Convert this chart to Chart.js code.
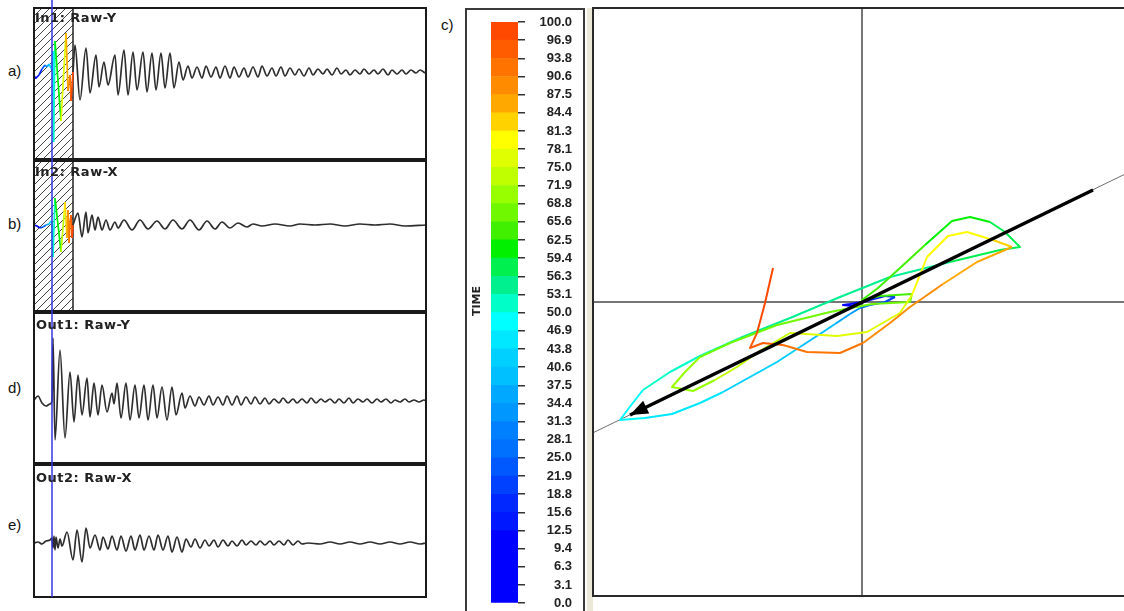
<!DOCTYPE html>
<html>
<head>
<meta charset="utf-8">
<script src="https://cdn.jsdelivr.net/npm/chart.js@4.4.1/dist/chart.umd.min.js"></script>
<style>
  html, body { margin: 0; padding: 0; background: #fff; width: 1124px; height: 611px; overflow: hidden; position: relative; }
  canvas { position: absolute; display: block; }
  .lbl { position: absolute; font: 15px "Liberation Sans", Arial, sans-serif; color: #111; line-height: 18px; }
  .ttl { position: absolute; font: bold 13px "DejaVu Sans", Verdana, sans-serif; color: #222; line-height: 15px;
         white-space: nowrap; letter-spacing: 0.5px; }
  .axisname { position: absolute; font: bold 11px "DejaVu Sans", Verdana, sans-serif; color: #222; line-height: 14px;
              width: 60px; text-align: center; transform: rotate(-90deg); }
  .strip { position: absolute; background: #ece9d8; }
</style>
</head>
<body>
<div class="lbl" style="left:8px;top:62px">a)</div>
<div class="lbl" style="left:8px;top:215px">b)</div>
<div class="lbl" style="left:8px;top:379px">d)</div>
<div class="lbl" style="left:8px;top:516px">e)</div>
<div class="lbl" style="left:441px;top:16px">c)</div>

<canvas id="cvA" width="440" height="160" style="left:0;top:0"></canvas>
<canvas id="cvB" width="440" height="152" style="left:0;top:160px"></canvas>
<canvas id="cvD" width="440" height="152" style="left:0;top:312px"></canvas>
<canvas id="cvE" width="440" height="147" style="left:0;top:464px"></canvas>

<div class="ttl" style="left:35px;top:10px">In1: Raw-Y</div>
<div class="ttl" style="left:35px;top:164px">In2: Raw-X</div>
<div class="ttl" style="left:36px;top:317px">Out1: Raw-Y</div>
<div class="ttl" style="left:36px;top:470px">Out2: Raw-X</div>

<div class="strip" style="left:587px;top:8px;width:6px;height:603px"></div>
<canvas id="cvBar" width="120" height="607" style="left:465px;top:8px"></canvas>
<div class="axisname" style="left:447px;top:294px">TIME</div>

<canvas id="cvOrbit" width="540" height="591" style="left:591px;top:7px"></canvas>

<script>
// ---------- time colour scale (TIME, % of the analysis window) ----------
const timeLevels = [0, 3.125, 6.25, 9.375, 12.5, 15.625, 18.75, 21.875, 25, 28.125, 31.25, 34.375,
  37.5, 40.625, 43.75, 46.875, 50, 53.125, 56.25, 59.375, 62.5, 65.625, 68.75, 71.875, 75,
  78.125, 81.25, 84.375, 87.5, 90.625, 93.75, 96.875, 100];
const timeTickLabels = ['0.0', '3.1', '6.3', '9.4', '12.5', '15.6', '18.8', '21.9', '25.0', '28.1', '31.3', '34.4',
  '37.5', '40.6', '43.8', '46.9', '50.0', '53.1', '56.3', '59.4', '62.5', '65.6', '68.8', '71.9', '75.0',
  '78.1', '81.3', '84.4', '87.5', '90.6', '93.8', '96.9', '100.0'];
// one colour per band, from 0.0 upwards
const timeColors = ['#0000ff', '#0000ff', '#0000ff', '#0000ff', '#0018ff', '#0028ff', '#0040ff', '#0058ff',
  '#0070ff', '#0080ff', '#0098ff', '#00a8ff', '#00c0ff', '#00d0ff', '#00e8ff', '#00ffff',
  '#00ffc8', '#00f090', '#00f050', '#00f000', '#40f000', '#70f800', '#98ff00', '#c0ff00',
  '#e0ff00', '#ffff00', '#ffd200', '#ffa800', '#ff8c00', '#ff7400', '#ff5c00', '#ff4800'];

// ---------- waveforms (time in samples, amplitude in counts) ----------
const windowLength = 39;   // hatched analysis window, samples
const cursorTime = 18;     // time cursor, samples

// In1: Raw-Y, inside the analysis window
const in1WinT = [0, 2, 5, 8, 11, 13, 15, 17, 18, 19, 19.5, 21, 27, 32, 34, 36, 37, 39];
const in1WinA = [-4, -6, -3, 3, 7, 5, 8, 4, 2, 21, -70, 31, -49, 39, -19, -3, -29, 0];
// In1: Raw-Y, after the window
const in1T = [39, 41, 46, 52, 56, 62, 65, 70, 74, 81, 84, 90, 94, 99, 103, 109, 113, 118, 122, 127,
  131, 136, 140, 145, 149, 154, 158, 163, 168, 172, 177, 182, 186, 191, 196, 200, 205, 210, 214, 219,
  224, 228, 233, 238, 242, 247, 251, 256, 261, 265, 270, 275, 279, 284, 289, 293, 298, 303, 307, 312,
  316, 321, 326, 330, 335, 340, 344, 349, 354, 358, 363, 368, 372, 377, 382, 386, 391];
const in1A = [0, 27, -28, 24, -21, 17, -15, 10, -13, 17, -23, 22, -23, 20, -18, 20, -20, 19, -18, 19,
  -16, 19, -16, 10, -8, 6, -6, 5, -6, 6, -5, 5, -6, 6, -6, 5, -5, 4, -5, 5,
  -5, 6, -4, 4, -4, 5, -4, 4, -3, 3, -4, 4, -3, 3, -2, 3, -3, 4, -2, 2,
  -3, 2, -2, 3, -2, 2, -2, 3, -3, 2, -2, 2, -2, 2, -1, 2, -1];

// In2: Raw-X
const in2WinT = [0, 3, 6, 9, 12, 15, 17, 18, 19, 21, 27, 30, 31, 33, 34, 35, 36, 37, 38, 39];
const in2WinA = [0, -1, -3, -2, 0, 1, 4, 2, -32, 27, -27, 10, 23, -13, 15, -18, 3, 10, -13, 0];
const in2T = [39, 44, 48, 52, 54, 58, 61, 64, 68, 72, 76, 81, 84, 90, 98, 106, 114, 123, 131, 139,
  148, 156, 165, 173, 181, 188, 196, 204, 213, 219, 228, 241, 256, 266, 281, 296, 311, 326, 341, 356,
  371, 392];
const in2A = [0, 12, -12, 13, -8, 10, -5, 8, -5, 5, -5, 3, -3, 5, -5, 5, -4, 4, -4, 5,
  -4, 5, -5, 4, -4, 3, -3, 2, -2, 1, -1, 1, -1, 1, 0, 1, -1, 1, 0, 1,
  -1, 0];

// Out1: Raw-Y
const out1T = [0, 4, 8, 12, 16, 18, 19, 21, 26, 31, 36, 40, 44, 48, 53, 56, 60, 64, 68, 73,
  78, 80, 83, 87, 92, 96, 101, 105, 110, 114, 119, 123, 128, 133, 138, 142, 148, 151, 156, 161,
  165, 170, 175, 179, 184, 189, 193, 198, 203, 207, 212, 217, 221, 226, 231, 235, 240, 245, 249, 254,
  259, 263, 268, 273, 277, 282, 287, 291, 296, 301, 305, 310, 315, 319, 324, 329, 333, 338, 343, 347,
  352, 357, 361, 366, 371, 375, 380, 385, 390, 392];
const out1A = [1, 5, -2, -5, -3, 0, 63, -39, 51, -37, 29, -21, 26, -14, 23, -16, 18, -14, 16, -11,
  8, -3, 18, -17, 18, -19, 16, -17, 16, -19, 16, -17, 14, -19, 14, -14, 8, -7, 5, -5,
  4, -4, 5, -4, 4, -4, 5, -4, 5, -4, 4, -3, 4, -3, 3, -3, 2, -2, 3, -2,
  2, -2, 2, -2, 3, -2, 2, -1, 2, -2, 2, -2, 3, -2, 2, -1, 2, -2, 2, -1,
  2, -2, 1, -1, 2, -1, 1, -1, 1, 0];

// Out2: Raw-X
const out2T = [0, 4, 8, 12, 16, 18, 19, 20, 21, 22, 24, 26, 28, 33, 39, 43, 48, 52, 56, 61,
  66, 69, 74, 78, 83, 87, 92, 97, 101, 106, 110, 115, 120, 124, 129, 134, 138, 143, 148, 152,
  157, 161, 166, 171, 175, 180, 184, 189, 194, 198, 203, 208, 212, 217, 222, 226, 231, 236, 240, 245,
  250, 254, 259, 264, 268, 274, 286, 296, 306, 316, 326, 336, 346, 356, 366, 376, 386, 392];
const out2A = [0, 1, -1, 2, 3, 5, -5, 7, -7, 6, -5, 4, -3, 11, -17, 13, -19, 15, -5, 8,
  -7, 6, -6, 7, -7, 7, -8, 7, -7, 8, -7, 7, -7, 8, -7, 7, -9, 6, -9, 4,
  -4, 4, -5, 3, -3, 3, -4, 3, -3, 2, -3, 3, -2, 2, -2, 2, -2, 2, -2, 2,
  -2, 3, -2, 2, -1, 0, -1, 1, -1, 1, -1, 1, -1, 1, -1, 1, -1, 0];

// ---------- particle motion (X / Y), with its time in % of the window ----------
const orbitX = [0, -0.12, -0.19, -0.10, 0.08, 0.23, 0.33, 0.23, 0.08, -0.02,
  -0.12, -0.27, -0.39, -0.62, -0.85, -1.12, -1.39, -1.62, -1.90, -2.17,
  -2.42, -2.30, -2.19, -1.92, -1.62, -1.22, -0.72, -0.22, 0.28, 0.88,
  1.38, 1.58, 1.43, 1.28, 1.08, 0.90, 0.63, 0.38, 0.16, 0.00,
  0.18, 0.50, 0.48, 0.10, -0.32, -0.85, -1.32, -1.62, -1.77, -1.90,
  -1.69, -1.47, -1.25, -1.02, -0.72, -0.25, 0.05, 0.38, 0.50, 0.65,
  0.86, 1.05, 1.31, 1.50, 1.15, 0.81, 0.48, 0.28, 0.01, -0.22,
  -0.55, -0.79, -0.99, -1.12, -1.05, -0.97, -0.89];
const orbitY = [0, -0.02, -0.03, -0.04, 0.02, 0.06, 0.05, 0.00, -0.03, -0.06,
  -0.12, -0.22, -0.30, -0.45, -0.60, -0.75, -0.90, -1.01, -1.12, -1.16,
  -1.18, -1.02, -0.88, -0.70, -0.54, -0.36, -0.16, 0.05, 0.25, 0.40,
  0.52, 0.55, 0.70, 0.80, 0.85, 0.81, 0.57, 0.34, 0.14, 0.02,
  0.06, 0.08, 0.00, -0.02, -0.10, -0.23, -0.41, -0.55, -0.70, -0.85,
  -0.89, -0.78, -0.65, -0.49, -0.31, -0.34, -0.30, -0.11, 0.07, 0.45,
  0.66, 0.70, 0.62, 0.55, 0.40, 0.18, -0.05, -0.21, -0.41, -0.51,
  -0.50, -0.43, -0.41, -0.46, -0.31, -0.01, 0.34];
const orbitTime = [0, 3, 6, 9, 12, 15, 18, 21, 25, 30,
  34, 37, 39, 41, 42, 43, 44, 45, 46, 47,
  48, 49, 50, 51, 52, 53, 53.5, 54, 55, 56,
  56.5, 57, 58.5, 59.5, 60.5, 61.5, 62.5, 63.5, 64, 64.5,
  65, 65.5, 66, 66.5, 67, 67.5, 68, 68.5, 69, 69.5,
  70.5, 71.5, 72.5, 73.5, 74.5, 75.5, 76.5, 77.5, 78.5, 79,
  79.5, 80, 81.5, 84, 86, 87.5, 88.5, 89.5, 90.5, 91.5,
  92.5, 93.5, 94.5, 96, 97, 98.5, 100];
// principal direction and polarisation arrow
const majorAxisX = [-2.9, 2.9];
const majorAxisY = [-1.41, 1.41];
const arrowX = [2.31, -2.32];
const arrowY = [1.12, -1.13];

// ---------- helpers ----------
const pts = (xs, ys) => xs.map((x, i) => ({ x, y: ys[i] }));
const colorAt = pct => {
  const n = timeColors.length;
  return timeColors[Math.max(0, Math.min(n - 1, Math.floor(pct / (100 / n))))];
};
Chart.defaults.animation = false;
Chart.defaults.devicePixelRatio = 1;

function wavePanel(id, o) {
  const datasets = [{
    data: pts(o.t, o.a), borderColor: '#2e2e2e', borderWidth: 1.7, pointRadius: 0,
    cubicInterpolationMode: 'monotone'
  }];
  if (o.winT) {
    datasets.push({
      data: pts(o.winT, o.winA), borderWidth: 1.7, pointRadius: 0, tension: 0, borderColor: '#00f',
      segment: { borderColor: c => colorAt((c.p0.parsed.x + c.p1.parsed.x) / 2 / windowLength * 100) }
    });
  }
  const decor = {
    id: 'panelDecor',
    beforeDatasetsDraw(chart) {
      if (!o.winT) return;
      const { ctx, chartArea: a, scales: { x } } = chart;
      const x1 = x.getPixelForValue(windowLength);
      const h = a.bottom - a.top;
      ctx.save();
      ctx.beginPath(); ctx.rect(a.left, a.top, x1 - a.left, h); ctx.clip();
      ctx.strokeStyle = '#444'; ctx.lineWidth = 1;
      ctx.beginPath();
      for (let k = a.left - h; k < x1; k += 8) { ctx.moveTo(k, a.bottom); ctx.lineTo(k + h, a.top); }
      ctx.stroke();
      ctx.restore();
      ctx.save();
      ctx.strokeStyle = '#222'; ctx.lineWidth = 1.5;
      ctx.beginPath(); ctx.moveTo(x1, a.top); ctx.lineTo(x1, a.bottom); ctx.stroke();
      ctx.restore();
    },
    afterDraw(chart) {
      const { ctx, chartArea: a, scales: { x } } = chart;
      ctx.save();
      ctx.strokeStyle = '#1a1a1a'; ctx.lineWidth = 2;
      ctx.strokeRect(a.left, a.top, a.right - a.left, a.bottom - a.top);
      const cx = x.getPixelForValue(cursorTime);
      ctx.strokeStyle = '#3434e6'; ctx.lineWidth = 1.5;
      ctx.beginPath(); ctx.moveTo(cx, 0); ctx.lineTo(cx, o.cursorToBottom ? a.bottom : chart.height); ctx.stroke();
      ctx.restore();
    }
  };
  return new Chart(document.getElementById(id), {
    type: 'line',
    data: { datasets },
    options: {
      responsive: false, parsing: true,
      layout: { padding: { left: 34, right: 14, top: o.padTop, bottom: o.padBottom } },
      scales: {
        x: { type: 'linear', min: 0, max: 392, display: false },
        y: { min: o.yMin, max: o.yMax, display: false }
      },
      plugins: { legend: { display: false }, tooltip: { enabled: false } }
    },
    plugins: [decor]
  });
}

wavePanel('cvA', { t: in1T, a: in1A, winT: in1WinT, winA: in1WinA, yMin: -87, yMax: 64, padTop: 8, padBottom: 1 });
wavePanel('cvB', { t: in2T, a: in2A, winT: in2WinT, winA: in2WinA, yMin: -86, yMax: 64, padTop: 1, padBottom: 1 });
wavePanel('cvD', { t: out1T, a: out1A, yMin: -62, yMax: 88, padTop: 1, padBottom: 1 });
wavePanel('cvE', { t: out2T, a: out2A, yMin: -54, yMax: 78, padTop: 1, padBottom: 14, cursorToBottom: true });

// ---------- colour bar ----------
new Chart(document.getElementById('cvBar'), {
  type: 'bar',
  data: {
    labels: ['TIME'],
    datasets: timeColors.map((c, i) => ({
      data: [[timeLevels[i], timeLevels[i + 1]]], backgroundColor: c, borderWidth: 0,
      barPercentage: 1, categoryPercentage: 1, grouped: false
    }))
  },
  options: {
    responsive: false,
    layout: { padding: { left: 26, right: 13, top: 14, bottom: 5 } },
    scales: {
      x: { display: false },
      y: {
        position: 'right', min: 0, max: 100,
        afterBuildTicks: s => { s.ticks = timeLevels.map(v => ({ value: v })); },
        afterFit: s => { s.width = 54; },
        ticks: {
          autoSkip: false, crossAlign: 'far', padding: 4, color: '#222',
          font: { family: '"Liberation Sans", Arial, sans-serif', size: 13, weight: 'bold' },
          callback: (v, i) => timeTickLabels[i]
        },
        grid: { drawOnChartArea: false, drawTicks: true, tickLength: 7, color: '#333', lineWidth: 1.5 },
        border: { display: false }
      }
    },
    plugins: { legend: { display: false }, tooltip: { enabled: false } }
  },
  plugins: [{
    id: 'barFrame',
    afterDraw(chart) {
      const { ctx } = chart;
      ctx.save();
      ctx.strokeStyle = '#3a3a3a'; ctx.lineWidth = 2;
      ctx.strokeRect(1, 1, chart.width - 2, chart.height + 6);
      ctx.restore();
    }
  }]
});

// ---------- particle motion ----------
new Chart(document.getElementById('cvOrbit'), {
  type: 'scatter',
  data: {
    datasets: [
      { data: pts(arrowX, arrowY), showLine: true, borderColor: '#000', borderWidth: 3.5, pointRadius: 0 },
      {
        data: pts(orbitX, orbitY), showLine: true, borderWidth: 2, pointRadius: 0, tension: 0,
        borderJoinStyle: 'round', borderColor: '#00f',
        segment: { borderColor: c => colorAt((orbitTime[c.p0DataIndex] + orbitTime[c.p1DataIndex]) / 2) }
      },
      { data: pts(majorAxisX, majorAxisY), showLine: true, borderColor: '#6e6e6e', borderWidth: 1, pointRadius: 0 }
    ]
  },
  options: {
    responsive: false,
    layout: { padding: { left: 2, right: 0, top: 1, bottom: 2 } },
    scales: {
      x: { type: 'linear', min: -2.69, max: 2.69, display: false },
      y: { type: 'linear', min: -2.94, max: 2.94, display: false }
    },
    plugins: { legend: { display: false }, tooltip: { enabled: false } }
  },
  plugins: [{
    id: 'orbitDecor',
    beforeDatasetsDraw(chart) {
      const { ctx, chartArea: a, scales: { x, y } } = chart;
      const x0 = x.getPixelForValue(0), y0 = y.getPixelForValue(0);
      ctx.save();
      ctx.strokeStyle = '#4a4a4a'; ctx.lineWidth = 1.5;
      ctx.beginPath();
      ctx.moveTo(x0, a.top); ctx.lineTo(x0, a.bottom);
      ctx.moveTo(a.left, y0); ctx.lineTo(a.right, y0);
      ctx.stroke();
      ctx.restore();
    },
    afterDatasetsDraw(chart) {
      const { ctx } = chart;
      const el = chart.getDatasetMeta(0).data;
      const p1 = el[el.length - 1], p0 = el[el.length - 2];
      const ang = Math.atan2(p1.y - p0.y, p1.x - p0.x);
      const L = 18, W = 7, c = Math.cos(ang), s = Math.sin(ang);
      ctx.save();
      ctx.fillStyle = '#000';
      ctx.beginPath();
      ctx.moveTo(p1.x, p1.y);
      ctx.lineTo(p1.x - L * c + W * s, p1.y - L * s - W * c);
      ctx.lineTo(p1.x - L * c - W * s, p1.y - L * s + W * c);
      ctx.closePath(); ctx.fill();
      ctx.restore();
    },
    afterDraw(chart) {
      const { ctx, chartArea: a } = chart;
      ctx.save();
      ctx.strokeStyle = '#2a2a2a'; ctx.lineWidth = 2;
      ctx.beginPath();
      ctx.moveTo(a.right + 5, a.top); ctx.lineTo(a.left, a.top); ctx.lineTo(a.left, a.bottom); ctx.lineTo(a.right + 5, a.bottom);
      ctx.stroke();
      ctx.restore();
    }
  }]
});
</script>
</body>
</html>
